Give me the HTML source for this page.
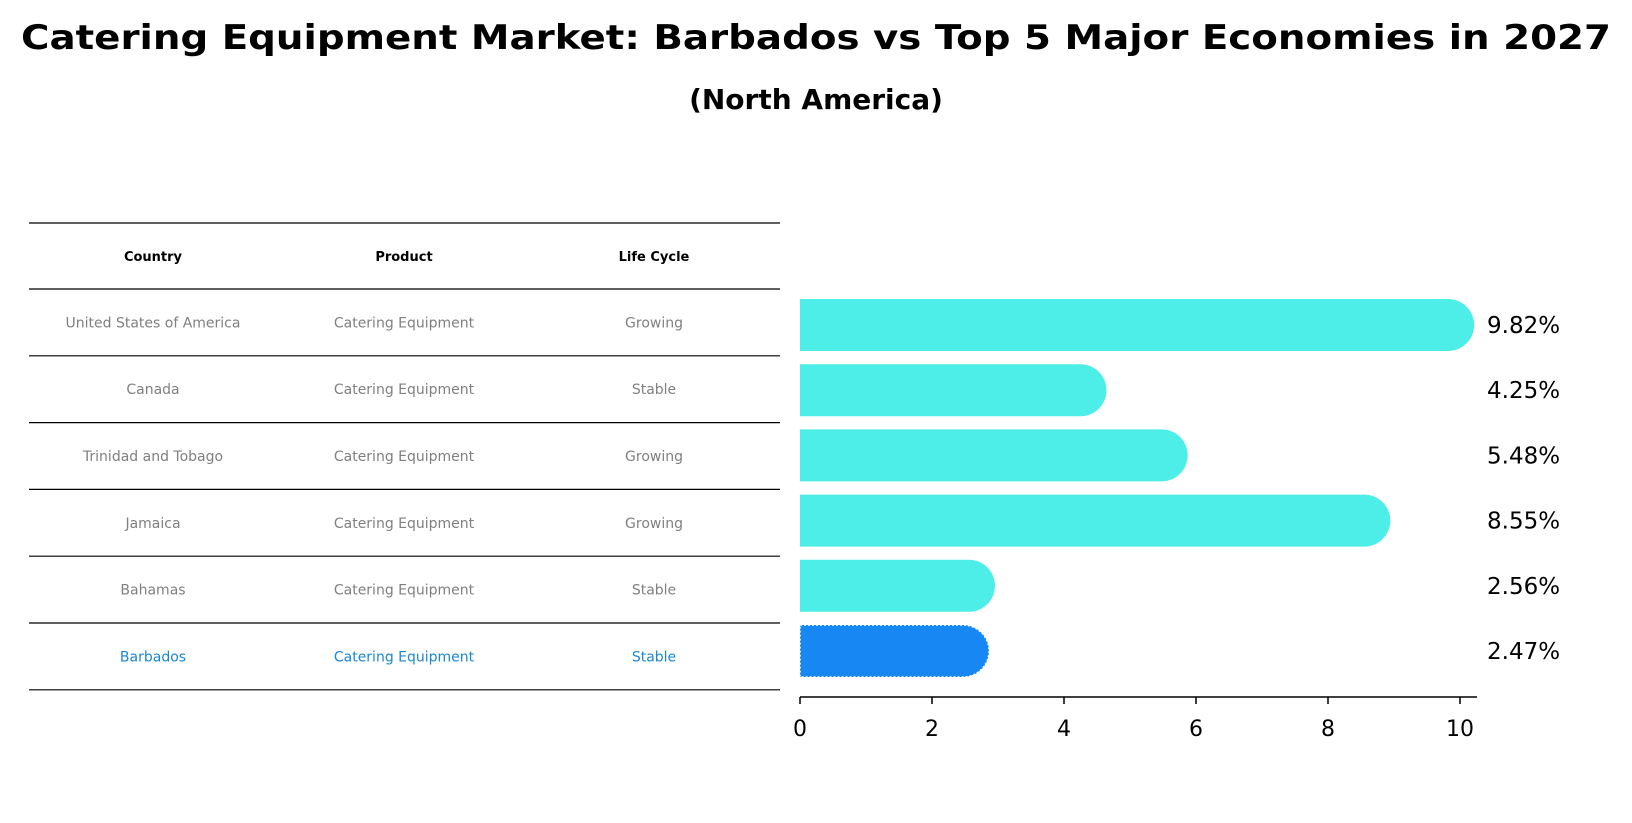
<!DOCTYPE html>
<html><head><meta charset="utf-8"><style>
html,body{margin:0;padding:0;background:#fff;}
svg{display:block;font-family:"DejaVu Sans","Liberation Sans",sans-serif;}
</style></head><body>
<svg id="chart" width="1632" height="823" viewBox="0 0 1632 823" xmlns="http://www.w3.org/2000/svg">
<text x="816" y="49" text-anchor="middle" font-size="34" font-weight="bold" textLength="1590" lengthAdjust="spacingAndGlyphs">Catering Equipment Market: Barbados vs Top 5 Major Economies in 2027</text>
<text x="816" y="109" text-anchor="middle" font-size="28" font-weight="bold">(North America)</text>
<g id="table"></g>
<g id="bars"></g>
<g id="axis"></g>
</svg>
<script>
const countries = ["United States of America","Canada","Trinidad and Tobago","Jamaica","Bahamas","Barbados"];
const products = ["Catering Equipment","Catering Equipment","Catering Equipment","Catering Equipment","Catering Equipment","Catering Equipment"];
const lifeCycles = ["Growing","Stable","Growing","Growing","Stable","Stable"];
const values = [9.82,4.25,5.48,8.55,2.56,2.47];
const valueLabels = ["9.82%","4.25%","5.48%","8.55%","2.56%","2.47%"];
const xTicks = [0,2,4,6,8,10];

const NS="http://www.w3.org/2000/svg";
function mk(tag,attrs,parent,text){const e=document.createElementNS(NS,tag);for(const k in attrs)e.setAttribute(k,attrs[k]);if(text!==undefined)e.textContent=text;parent.appendChild(e);return e;}
const x0=800, pxPer=66;
function xs(v){return x0+v*pxPer;}
const rowTop=289, rowH=66.8;
function rowCenter(i){return rowTop+rowH*(i+0.5)+3;}

// table
const tbl=document.getElementById('table');
const colX=[153,404,654];
const heads=["Country","Product","Life Cycle"];
let ln=mk('line',{x1:29,x2:780,y1:223,y2:223,stroke:'#000','stroke-width':1.2},tbl);


heads.forEach((h,j)=>{const t=mk('text',{x:colX[j],y:261,'text-anchor':'middle','font-size':13,'font-weight':'bold'},tbl,h);

});
countries.forEach((c,i)=>{
  const yl=rowTop+rowH*i;
  const l=mk('line',{x1:29,x2:780,y1:yl,y2:yl,stroke:'#000','stroke-width':1.2},tbl);
  
  
  const col=i===countries.length-1?'#1a86d6':'#808080';
  [c,products[i],lifeCycles[i]].forEach((v,j)=>{
    const t=mk('text',{x:colX[j],y:yl+rowH/2+5,'text-anchor':'middle','font-size':14,fill:col},tbl,v);
    
    
  });
});
const lb=mk('line',{x1:29,x2:780,y1:rowTop+rowH*countries.length,y2:rowTop+rowH*countries.length,stroke:'#000','stroke-width':1.2},tbl);



// bars
const bars=document.getElementById('bars');
const barPos=[325,390,455,520,586,651];
const bh=52, r=26;
values.forEach((v,i)=>{
  const cy=barPos[0]+(barPos[5]-barPos[0])/5*i;
  const isB=i===values.length-1;
  const w=xs(v)-x0;
  const col=isB?'#1787f3':'#4deee8';
  const p=mk('path',{d:`M${x0},${cy-bh/2} H${x0+w} A${r},${r} 0 0 1 ${x0+w},${cy+bh/2} H${x0} Z`,fill:col},bars);
  if(isB){p.setAttribute('stroke','#fff');p.setAttribute('stroke-dasharray','2,2');p.setAttribute('stroke-width','1.5');}
  
  
  const t=mk('text',{x:1487,y:cy+8,'font-size':23},bars,valueLabels[i]);
  
  
});

// axis
const ax=document.getElementById('axis');
const al=mk('line',{x1:x0,x2:1477,y1:697,y2:697,stroke:'#000','stroke-width':1.5},ax);


xTicks.forEach(t=>{
  const tk=mk('line',{x1:xs(t),x2:xs(t),y1:697,y2:704,stroke:'#000','stroke-width':1.5},ax);
  
  
  const tl=mk('text',{x:xs(t),y:736,'text-anchor':'middle','font-size':22},ax,String(t));
  
  
});
</script>
</body></html>
